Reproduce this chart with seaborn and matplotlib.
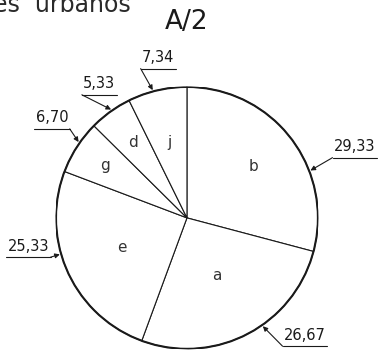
import numpy as np
import matplotlib
matplotlib.use('Agg')
import matplotlib.pyplot as plt
import seaborn as sns

# slices clockwise from the top
letters = ['b', 'a', 'e', 'g', 'd', 'j']
shares = [29.33, 26.67, 25.33, 6.70, 5.33, 7.34]
value_labels = [f"{v:.2f}".replace('.', ',') for v in shares]

# layout of the callouts (in pie-radius units / degrees)
arrow_ang = [21, -55, 196, 145, 125, 105]
text_pos = [(1.28, 0.51), (0.90, -0.93), (-1.21, -0.25), (-1.03, 0.73), (-0.67, 0.99), (-0.22, 1.19)]
leader_side = ['left', 'left', 'right', 'right', 'left', 'left']
letter_r = [0.64, 0.50, 0.55, 0.74, 0.71, 0.59]

sns.set_theme(style="white")
plt.rcParams['font.family'] = ['DejaVu Sans']
ink = '#1a1a1a'

fig = plt.figure(figsize=(3.8, 3.52), dpi=100)
ax = fig.add_axes([0.147, 0.009, 0.69, 0.744])

wedges, texts = ax.pie(shares, labels=letters, startangle=90, counterclock=False,
                       radius=1, labeldistance=0.6,
                       wedgeprops=dict(facecolor='white', edgecolor=ink, linewidth=0.8),
                       textprops=dict(fontsize=11, color='#333333'))
ax.add_patch(plt.Circle((0, 0), 1, fill=False, edgecolor=ink, linewidth=1.5, zorder=5))

# move the slice letters
for w, t, r in zip(wedges, texts, letter_r):
    mid = np.deg2rad((w.theta1 + w.theta2) / 2)
    t.set_position((r * np.cos(mid), r * np.sin(mid)))
    t.set_ha('center')
    t.set_va('center')

ax.set_xlim(-1, 1)
ax.set_ylim(-1, 1)
ax.set_aspect('equal')
ax.axis('off')

fig.canvas.draw()
rend = fig.canvas.get_renderer()
inv = ax.transData.inverted()

for lab, ang, (tx, ty), side in zip(value_labels, arrow_ang, text_pos, leader_side):
    t = ax.text(tx, ty, lab, ha='center', va='baseline', fontsize=10.5, color=ink,
                clip_on=False)
    bb = t.get_window_extent(renderer=rend)
    (x0, _), (x1, _) = inv.transform([(bb.x0, bb.y0), (bb.x1, bb.y0)])
    uy = ty - 0.05
    ax.plot([x0 - 0.01, x1 + 0.01], [uy, uy], color=ink, lw=0.8, clip_on=False)
    sx = x0 - 0.01 if side == 'left' else x1 + 0.01
    a = np.deg2rad(ang)
    ax.annotate('', xy=(np.cos(a) * 1.01, np.sin(a) * 1.01), xytext=(sx, uy),
                arrowprops=dict(arrowstyle='-|>', color=ink, lw=0.8,
                                mutation_scale=7, shrinkA=0, shrinkB=0),
                annotation_clip=False)

fig.text(0.49, 0.937, 'A/2', ha='center', va='center', fontsize=19, color=ink)
fig.text(-0.018, 0.966, 'es  urbanos', ha='left', va='baseline', fontsize=17, color='#2a2a2a')

fig.savefig('out.png', dpi=100)
